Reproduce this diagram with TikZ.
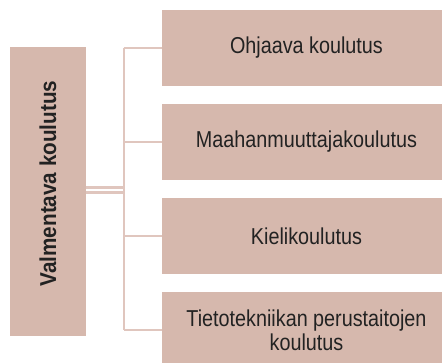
\documentclass[tikz,border=0pt]{standalone}
\usepackage{fontspec}
\setmainfont{Liberation Sans}[FakeStretch=0.86]
\newfontfamily\mainbold{Liberation Sans}[FakeStretch=0.9]
\usetikzlibrary{calc}

\definecolor{boxfill}{RGB}{214,184,173}
\definecolor{linkcol}{RGB}{224,198,190}
\definecolor{txtcol}{RGB}{34,34,34}

\tikzset{
  kbox/.style={fill=boxfill, inner sep=0pt, minimum width=289pt, minimum height=76pt,
    align=center, text=txtcol, font=\fontsize{23}{24}\selectfont},
  mainbox/.style={kbox, rotate=90, font=\fontsize{23}{24}\selectfont\mainbold\bfseries},
  link/.style={draw=linkcol, line width=2pt}
}

\begin{document}
\begin{tikzpicture}[x=1pt,y=-1pt]
  \useasboundingbox (0,0) rectangle (442,363);
  \clip (0,0) rectangle (442,363);

  % left box
  \node[mainbox] (main) at (48,191.5) {\hspace*{16pt}Valmentava koulutus};

  % right boxes
  \node[kbox] (b1) at (306.5,48)  {Ohjaava koulutus};
  \node[kbox] (b2) at (306.5,142) {Maahanmuuttajakoulutus};
  \node[kbox] (b3) at (306.5,236) {Kielikoulutus};
  \node[kbox] (b4) at (306.5,330) {Tietotekniikan perustaitojen\\koulutus};

  % connectors
  \coordinate (hub) at (123.5,190);
  \draw[draw=linkcol, line width=2.5pt, double=white, double distance=2.5pt]
    (main.south |- hub) -- (hub);
  \draw[link] (hub |- b1.west) -- (hub |- b4.west);
  \foreach \b in {b1,b2,b3,b4}
    \draw[link] (hub |- \b.west) -- (\b.west);
\end{tikzpicture}
\end{document}
